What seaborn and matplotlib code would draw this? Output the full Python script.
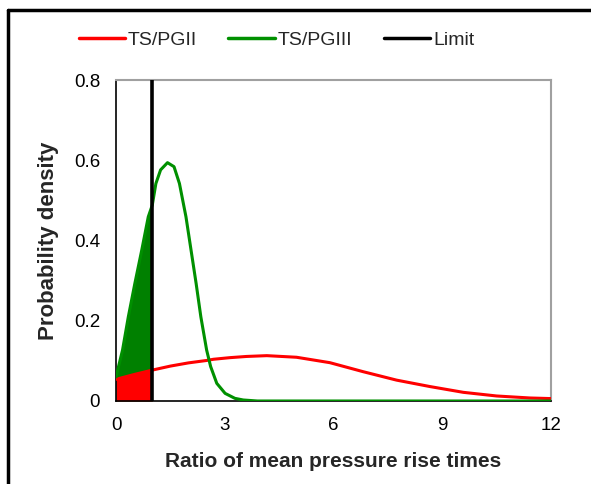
import numpy as np
import pandas as pd
import matplotlib
matplotlib.use("Agg")
import matplotlib.pyplot as plt
import seaborn as sns
from matplotlib.lines import Line2D

# values
x_pg2 = [0, 0.5, 1, 1.5, 2, 2.5, 2.69, 3.14, 3.6, 4.16, 4.98, 5.9, 6.82, 7.74,
         8.66, 9.58, 10.5, 11.42, 12]
y_pg2 = [0.054, 0.066, 0.077, 0.087, 0.095, 0.101, 0.104, 0.108, 0.111, 0.113,
         0.109, 0.0955, 0.073, 0.052, 0.036, 0.0216, 0.0125, 0.0075, 0.006]

x_pg3 = [0, 0.18, 0.34, 0.52, 0.71, 0.89, 1.0, 1.10, 1.23, 1.42, 1.60, 1.75,
         1.93, 2.07, 2.21, 2.34, 2.50, 2.61, 2.78, 3.01, 3.28, 3.51, 3.9, 12]
y_pg3 = [0.060, 0.127, 0.21, 0.293, 0.376, 0.459, 0.488, 0.542, 0.576, 0.594,
         0.584, 0.542, 0.459, 0.376, 0.293, 0.21, 0.127, 0.086, 0.044, 0.019,
         0.0066, 0.0025, 0.0, 0.0]

limit = 1.0
x_ticks = [0, 3, 6, 9, 12]
y_ticks = [0, 0.2, 0.4, 0.6, 0.8]
y_ticklabels = ["0", "0.2", "0.4", "0.6", "0.8"]

sns.set_style("white")
plt.rcParams['font.family'] = ['Liberation Sans', 'DejaVu Sans']

df2 = pd.DataFrame({"x": x_pg2, "y": y_pg2})
df3 = pd.DataFrame({"x": x_pg3, "y": y_pg3})

fig = plt.figure(figsize=(5.91, 4.84), dpi=100)
ax = fig.add_axes([0.1963, 0.1715, 0.736, 0.6632])

# shaded areas left of the limit
s3 = df3[df3.x <= limit]
s2 = df2[df2.x <= limit]
ax.fill_between(s3.x, 0, s3.y, color="#008000", lw=0, zorder=1)
ax.fill_between(s2.x, 0, s2.y, color="#ff0000", lw=0, zorder=2)

sns.lineplot(data=df2, x="x", y="y", color="#ff0000", lw=2.2, ax=ax, zorder=3)
sns.lineplot(data=df3, x="x", y="y", color="#009000", lw=2.2, ax=ax, zorder=3)
ax.plot([limit, limit], [0, 0.8], color="black", lw=2.6, zorder=4)

ax.set_xlim(0, 12)
ax.set_ylim(0, 0.8)
ax.set_xticks(x_ticks)
ax.set_yticks(y_ticks)
ax.set_yticklabels(y_ticklabels)
ax.tick_params(direction="inout", length=7, width=1, labelsize=13.5, colors="black")
ax.tick_params(axis="x", pad=8)
ax.tick_params(axis="y", pad=8)
ax.set_xlabel("Ratio of mean pressure rise times", fontsize=15, fontweight="bold", labelpad=13)
ax.set_ylabel("Probability density", fontsize=16, fontweight="bold", labelpad=11)

for s in ["top", "right"]:
    ax.spines[s].set_color("#a0a0a0")
    ax.spines[s].set_linewidth(1.5)
for s in ["left", "bottom"]:
    ax.spines[s].set_color("black")
    ax.spines[s].set_linewidth(1.2)

handles = [Line2D([], [], color="#ff0000", lw=2.5),
           Line2D([], [], color="#009000", lw=2.5),
           Line2D([], [], color="black", lw=2.5)]
fig.legend(handles, ["TS/PGII", "TS/PGIII", "Limit"], loc="center",
           bbox_to_anchor=(0.468, 0.917), ncol=3, frameon=False, fontsize=14,
           handlelength=2.4, handletextpad=0.15, columnspacing=1.6)

# outer frame (left and top only)
fig.add_artist(Line2D([0.0135, 0.0135], [0, 0.979], color="black", lw=2.5,
                      transform=fig.transFigure))
fig.add_artist(Line2D([0.0135, 1.0], [0.979, 0.979], color="black", lw=2.5,
                      transform=fig.transFigure))

fig.savefig("out.png", dpi=100)
